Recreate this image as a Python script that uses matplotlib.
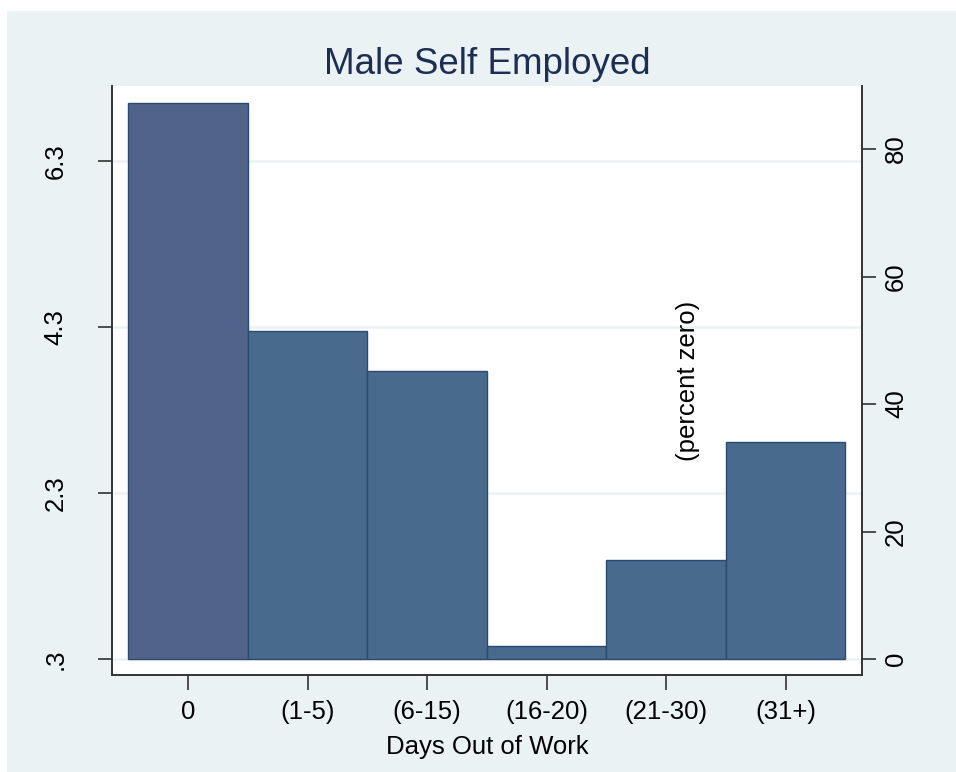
import matplotlib
matplotlib.use("Agg")
import matplotlib.pyplot as plt
from matplotlib.patches import Rectangle

categories = ["0", "(1-5)", "(6-15)", "(16-20)", "(21-30)", "(31+)"]
percent_values = [87.3, 51.5, 45.2, 2.0, 15.5, 34.0]
left_ticks = [0.3, 2.3, 4.3, 6.3]
left_labels = [".3", "2.3", "4.3", "6.3"]
right_ticks = [0, 20, 40, 60, 80]
right_labels = ["0", "20", "40", "60", "80"]
title = "Male Self Employed"
xlabel = "Days Out of Work"
note = "(percent zero)"

plt.rcParams['font.family'] = ['Liberation Sans', 'DejaVu Sans']

W, H = 956, 772
fig = plt.figure(figsize=(W / 100, H / 100), dpi=100, facecolor="white")
panel_color = "#EAF2F3"
fig.patches.append(Rectangle((7 / W, 0), 1 - 7 / W, 1 - 11 / H, transform=fig.transFigure,
                             facecolor=panel_color, edgecolor="none", zorder=-10))

left, right, top, bottom = 112, 862, 86, 675
ax = fig.add_axes([left / W, 1 - bottom / H, (right - left) / W, (bottom - top) / H])
ax.set_facecolor("white")
ax2 = ax.twinx()

# scales
pct_lo, pct_hi = -2.51, 89.9
px_per_pct = 6.375
px_per_left = 83.0
def pct_to_left(p):
    return 0.3 + p * px_per_pct / px_per_left
ax.set_ylim(pct_to_left(pct_lo), pct_to_left(pct_hi))
ax2.set_ylim(pct_lo, pct_hi)
ax.set_xlim(-0.636, 5.64)
ax2.set_xlim(-0.636, 5.64)

# gridlines from left ticks
for t in left_ticks:
    ax.axhline(t, color=panel_color, lw=1.8, zorder=0.5)

xs = list(range(len(categories)))
colors = ["#52638A"] + ["#476A8D"] * (len(categories) - 1)
ax2.bar(xs, percent_values, width=1.0, color=colors, edgecolor="#2B4A72", linewidth=1.0, zorder=2)

ax.set_yticks(left_ticks)
ax.set_yticklabels(left_labels, rotation=90, va="center")
ax2.set_yticks(right_ticks)
ax2.set_yticklabels(right_labels, rotation=90, va="center")
ax.set_xticks(xs)
ax.set_xticklabels(categories)

ax.tick_params(axis="y", length=10, width=1.1, labelsize=18.5, pad=22, color="#222222")
ax2.tick_params(axis="y", length=10, width=1.1, labelsize=18.5, pad=6, color="#222222")
ax.tick_params(axis="x", length=11, width=1.1, labelsize=18.5, pad=7, color="#222222")

for a in (ax, ax2):
    a.spines["top"].set_visible(False)
    for s in ("left", "right", "bottom"):
        a.spines[s].set_color("#333333")
        a.spines[s].set_linewidth(1.2)

ax2.text(4.18, 43.6, note, rotation=90, ha="center", va="center", fontsize=18.5, color="black", zorder=3)

fig.text(487 / W, 1 - 65 / H, title, ha="center", va="center", fontsize=26.5, color="#1E2D53")
fig.text(487 / W, 1 - 747 / H, xlabel, ha="center", va="center", fontsize=18.5, color="black")

fig.savefig("out.png", dpi=100, facecolor="white")
